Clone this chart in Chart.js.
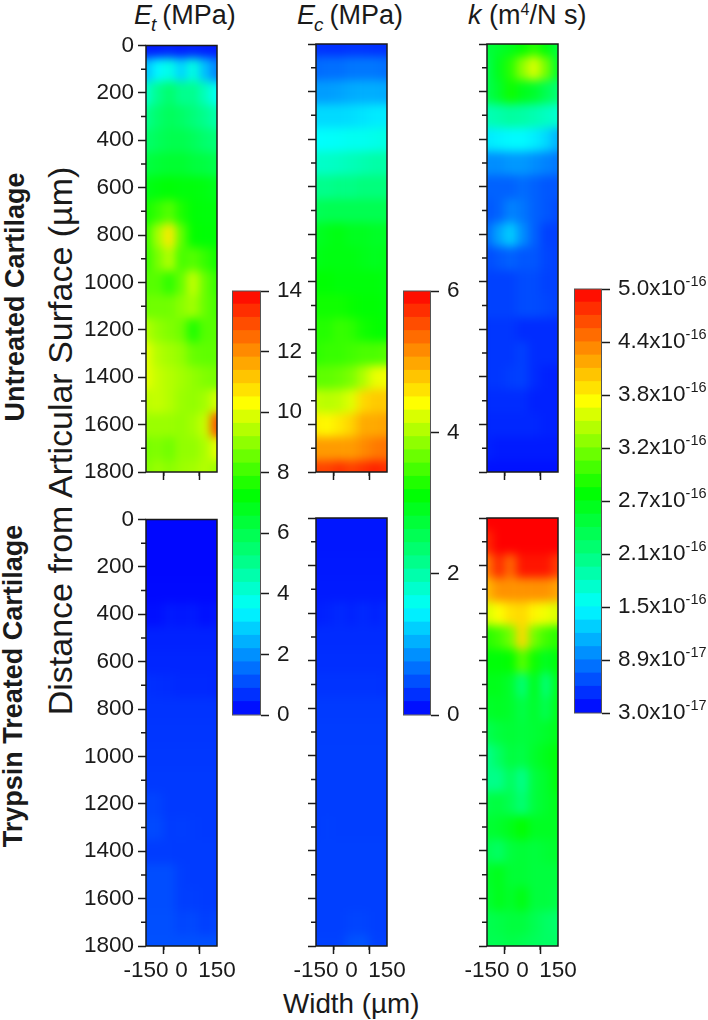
<!DOCTYPE html>
<html>
<head>
<meta charset="utf-8">
<script src="https://cdn.jsdelivr.net/npm/chart.js@4"></script>
<style>
html, body { margin:0; padding:0; background:#fff; }
body { position:relative; width:708px; height:1020px; overflow:hidden; font-family:"Liberation Sans",Arial,sans-serif; color:#1a1a1a; filter:blur(0.4px); }
canvas { position:absolute; }
.lab { position:absolute; white-space:nowrap; line-height:1; }
.title { font-size:27px; }
.title i.sub { font-size:19px; position:relative; top:7px; margin-left:-1px; margin-right:6px; }
.title sup { font-size:16px; line-height:0; position:relative; top:1px; }
.rot { transform:translate(-50%,-50%) rotate(-90deg); }
</style>
</head>
<body>
<div class="lab title" style="left:134px;top:2px"><i>E</i><i class="sub">t</i>(MPa)</div>
<div class="lab title" style="left:297px;top:2px"><i>E</i><i class="sub">c</i>(MPa)</div>
<div class="lab title" style="left:468px;top:2px"><i>k</i> (m<sup>4</sup>/N s)</div>
<div class="lab rot" style="left:60px;top:441px;font-size:34px">Distance from Articular Surface (&#181;m)</div>
<div class="lab rot" style="left:15px;top:297px;font-size:27px;font-weight:bold">Untreated Cartilage</div>
<div class="lab rot" style="left:13px;top:686px;font-size:27px;font-weight:bold">Trypsin Treated Cartilage</div>
<div class="lab" style="left:283px;top:990px;font-size:27.8px">Width (&#181;m)</div>

<canvas id="et_top" width="180" height="480" style="left:80px;top:28px"></canvas>
<canvas id="ec_top" width="180" height="480" style="left:250px;top:28px"></canvas>
<canvas id="k_top" width="180" height="480" style="left:421px;top:28px"></canvas>
<canvas id="et_bot" width="180" height="500" style="left:80px;top:502px"></canvas>
<canvas id="ec_bot" width="180" height="500" style="left:250px;top:502px"></canvas>
<canvas id="k_bot" width="180" height="500" style="left:421px;top:502px"></canvas>
<canvas id="et_bar" width="80" height="472" style="left:232px;top:267px"></canvas>
<canvas id="ec_bar" width="60" height="472" style="left:403px;top:267px"></canvas>
<canvas id="k_bar" width="134" height="472" style="left:574px;top:265px"></canvas>

<script>
var widthCols = [-150, -100, -50, 0, 50, 100, 150];
var depthRows = [0, 100, 200, 300, 400, 500, 600, 700, 800, 900, 1000, 1100, 1200, 1300, 1400, 1500, 1600, 1700, 1800];
var depthTicks = [0, 200, 400, 600, 800, 1000, 1200, 1400, 1600, 1800];
var depthMinor = [100, 300, 500, 700, 900, 1100, 1300, 1500, 1700];
var widthTicks = [-150, 0, 150];
var widthMinor = [-75, 75];

// Et, MPa, one row per depth
var etUntreated = [
    [0.4, 0.4, 0.5, 0.4, 0.5, 0.4, 0.4],
    [2.6, 3.4, 3.8, 2.9, 3.9, 2.6, 1.8],
    [4.2, 5.0, 5.5, 5.0, 5.0, 4.4, 3.6],
    [5.0, 5.5, 5.8, 5.6, 5.3, 5.0, 4.6],
    [5.5, 5.8, 6.0, 6.0, 5.8, 5.5, 5.3],
    [6.2, 6.4, 6.5, 6.5, 6.3, 6.2, 6.0],
    [6.9, 7.1, 7.2, 7.1, 7.1, 7.0, 6.8],
    [7.5, 7.9, 8.3, 7.6, 7.2, 7.1, 7.1],
    [7.9, 9.2, 10.6, 8.4, 7.3, 7.2, 7.2],
    [7.9, 8.7, 9.4, 8.1, 8.3, 7.9, 7.5],
    [8.3, 8.3, 7.8, 8.5, 9.6, 8.5, 7.9],
    [8.6, 8.6, 8.6, 8.9, 9.2, 8.5, 8.1],
    [9.4, 9.0, 8.8, 8.6, 7.6, 8.3, 8.3],
    [10.0, 9.4, 9.2, 9.0, 8.5, 8.4, 8.4],
    [10.0, 9.6, 9.4, 9.2, 9.0, 8.8, 8.7],
    [9.5, 9.6, 9.4, 9.1, 9.0, 9.2, 9.8],
    [9.1, 9.1, 9.1, 9.0, 9.2, 9.6, 12.8],
    [8.7, 8.8, 8.6, 9.0, 9.0, 9.3, 10.0],
    [8.8, 9.1, 8.9, 9.1, 9.2, 9.4, 9.1]
];
var etTrypsin = [
    [0.1, 0.1, 0.1, 0.1, 0.1, 0.1, 0.1],
    [0.1, 0.1, 0.1, 0.1, 0.1, 0.1, 0.1],
    [0.1, 0.1, 0.1, 0.1, 0.1, 0.1, 0.1],
    [0.12, 0.12, 0.12, 0.12, 0.12, 0.12, 0.12],
    [0.2, 0.2, 0.35, 0.3, 0.35, 0.2, 0.3],
    [0.45, 0.45, 0.45, 0.45, 0.45, 0.45, 0.45],
    [0.5, 0.5, 0.5, 0.5, 0.5, 0.5, 0.5],
    [0.65, 0.62, 0.6, 0.55, 0.55, 0.55, 0.52],
    [0.7, 0.7, 0.7, 0.7, 0.7, 0.7, 0.7],
    [0.72, 0.72, 0.72, 0.72, 0.72, 0.72, 0.72],
    [0.75, 0.75, 0.75, 0.75, 0.75, 0.75, 0.75],
    [0.78, 0.78, 0.78, 0.78, 0.78, 0.78, 0.78],
    [0.95, 0.9, 0.78, 0.78, 0.78, 0.78, 0.78],
    [1.0, 1.0, 0.8, 0.85, 0.8, 0.78, 0.78],
    [0.82, 0.82, 0.82, 0.8, 0.8, 0.8, 0.8],
    [1.05, 1.05, 1.05, 0.85, 0.8, 0.8, 0.8],
    [1.05, 1.05, 1.05, 0.85, 0.85, 0.8, 0.8],
    [1.08, 1.08, 1.08, 0.95, 1.0, 0.85, 0.95],
    [1.1, 1.1, 1.1, 1.1, 1.1, 1.1, 1.1]
];

// Ec, MPa
var ecUntreated = [
    [0.3, 0.28, 0.28, 0.3, 0.3, 0.28, 0.28],
    [0.62, 0.65, 0.65, 0.7, 0.7, 0.7, 0.65],
    [0.92, 0.92, 0.95, 1.0, 1.02, 1.02, 1.0],
    [1.28, 1.28, 1.28, 1.3, 1.34, 1.38, 1.38],
    [1.5, 1.52, 1.54, 1.58, 1.58, 1.62, 1.66],
    [1.8, 1.82, 1.85, 1.9, 1.95, 2.0, 2.0],
    [2.15, 2.15, 2.2, 2.2, 2.25, 2.25, 2.25],
    [2.5, 2.55, 2.55, 2.55, 2.55, 2.55, 2.55],
    [2.85, 2.95, 3.0, 2.9, 2.9, 2.85, 2.85],
    [2.95, 3.0, 3.0, 3.0, 2.95, 2.9, 2.95],
    [3.1, 3.1, 3.05, 3.05, 3.05, 3.05, 3.0],
    [3.2, 3.2, 3.2, 3.15, 3.1, 3.1, 3.05],
    [3.3, 3.3, 3.4, 3.35, 3.2, 3.15, 3.1],
    [3.35, 3.4, 3.4, 3.45, 3.5, 3.5, 3.55],
    [3.6, 3.6, 3.65, 3.75, 4.0, 4.3, 4.35],
    [4.1, 4.05, 4.1, 4.25, 4.65, 4.75, 4.75],
    [4.5, 4.45, 4.55, 4.7, 4.95, 4.95, 5.0],
    [5.05, 5.05, 5.05, 5.05, 5.15, 5.25, 5.3],
    [5.6, 5.6, 5.7, 5.6, 5.7, 5.8, 5.7]
];
var ecTrypsin = [
    [0.13, 0.13, 0.13, 0.13, 0.13, 0.13, 0.13],
    [0.13, 0.13, 0.13, 0.13, 0.13, 0.13, 0.13],
    [0.14, 0.14, 0.14, 0.14, 0.14, 0.14, 0.14],
    [0.15, 0.15, 0.15, 0.15, 0.15, 0.15, 0.15],
    [0.18, 0.2, 0.24, 0.2, 0.24, 0.2, 0.24],
    [0.25, 0.25, 0.25, 0.25, 0.25, 0.25, 0.25],
    [0.27, 0.27, 0.27, 0.27, 0.27, 0.27, 0.27],
    [0.3, 0.3, 0.3, 0.3, 0.3, 0.3, 0.28],
    [0.34, 0.34, 0.34, 0.34, 0.34, 0.34, 0.34],
    [0.35, 0.35, 0.35, 0.35, 0.35, 0.35, 0.35],
    [0.36, 0.36, 0.36, 0.36, 0.36, 0.36, 0.36],
    [0.36, 0.36, 0.36, 0.36, 0.36, 0.36, 0.36],
    [0.36, 0.36, 0.36, 0.36, 0.36, 0.36, 0.36],
    [0.36, 0.37, 0.36, 0.36, 0.36, 0.36, 0.36],
    [0.37, 0.37, 0.37, 0.37, 0.37, 0.37, 0.37],
    [0.37, 0.37, 0.37, 0.37, 0.37, 0.37, 0.37],
    [0.37, 0.37, 0.37, 0.37, 0.37, 0.37, 0.37],
    [0.37, 0.37, 0.37, 0.4, 0.4, 0.37, 0.37],
    [0.38, 0.38, 0.38, 0.48, 0.5, 0.38, 0.38]
];

// k, in units of 1e-16 m4/N s
var kUntreated = [
    [2.4, 2.5, 2.6, 2.75, 2.9, 2.7, 2.4],
    [2.3, 2.6, 2.9, 3.3, 3.6, 3.2, 2.5],
    [2.3, 2.5, 2.8, 2.6, 2.5, 2.3, 2.1],
    [1.8, 1.85, 1.9, 1.88, 1.82, 1.75, 1.68],
    [1.38, 1.42, 1.45, 1.45, 1.4, 1.3, 1.12],
    [0.95, 0.95, 1.0, 1.0, 0.95, 0.9, 0.85],
    [0.75, 0.75, 0.75, 0.8, 0.75, 0.7, 0.7],
    [0.7, 0.75, 0.9, 0.85, 0.75, 0.7, 0.65],
    [0.8, 1.05, 1.25, 0.95, 0.75, 0.6, 0.6],
    [0.65, 0.7, 0.75, 0.7, 0.7, 0.62, 0.6],
    [0.6, 0.6, 0.6, 0.65, 0.65, 0.6, 0.6],
    [0.6, 0.6, 0.6, 0.65, 0.65, 0.62, 0.6],
    [0.55, 0.55, 0.55, 0.5, 0.5, 0.5, 0.5],
    [0.55, 0.55, 0.55, 0.6, 0.5, 0.5, 0.5],
    [0.55, 0.55, 0.58, 0.6, 0.5, 0.45, 0.45],
    [0.5, 0.5, 0.5, 0.5, 0.45, 0.45, 0.45],
    [0.48, 0.48, 0.48, 0.48, 0.48, 0.45, 0.45],
    [0.45, 0.42, 0.42, 0.42, 0.42, 0.42, 0.42],
    [0.38, 0.38, 0.38, 0.38, 0.38, 0.38, 0.38]
];
var kTrypsin = [
    [5.0, 5.0, 5.0, 5.0, 5.0, 5.0, 5.0],
    [4.8, 5.0, 5.0, 5.0, 5.0, 5.0, 5.0],
    [4.4, 4.8, 4.5, 4.9, 4.9, 4.9, 4.7],
    [4.1, 4.3, 4.3, 4.3, 4.3, 4.3, 4.2],
    [3.6, 3.75, 3.9, 3.95, 3.8, 3.7, 3.6],
    [2.9, 3.0, 3.2, 3.95, 3.2, 3.0, 2.9],
    [2.7, 2.7, 2.75, 3.1, 2.8, 2.55, 2.7],
    [2.6, 2.6, 2.5, 2.1, 2.6, 2.1, 2.6],
    [2.5, 2.55, 2.5, 2.35, 2.5, 2.3, 2.6],
    [2.3, 2.4, 2.45, 2.4, 2.45, 2.5, 2.6],
    [2.0, 2.2, 2.4, 2.35, 2.5, 2.6, 2.7],
    [2.0, 2.0, 2.25, 2.0, 2.4, 2.5, 2.7],
    [2.35, 2.4, 2.3, 2.1, 2.4, 2.5, 2.6],
    [2.45, 2.5, 2.6, 2.75, 2.55, 2.55, 2.55],
    [2.3, 2.2, 2.4, 2.45, 2.4, 2.45, 2.5],
    [2.5, 2.6, 2.45, 2.45, 2.4, 2.4, 2.4],
    [2.45, 2.6, 2.5, 2.65, 2.4, 2.4, 2.35],
    [2.3, 2.35, 2.4, 2.4, 2.3, 2.2, 2.15],
    [2.3, 2.3, 2.35, 2.3, 2.25, 2.2, 2.2]
];

var etBarTicks = [0, 2, 4, 6, 8, 10, 12, 14];
var ecBarTicks = [0, 2, 4, 6];
var kBarTicks = [0.3, 0.8875, 1.475, 2.0625, 2.65, 3.2375, 3.825, 4.4125, 5.0];
var kBarMant = ['3.0x10', '8.9x10', '1.5x10', '2.1x10', '2.7x10', '3.2x10', '3.8x10', '4.4x10', '5.0x10'];
var kBarExp = ['-17', '-17', '-16', '-16', '-16', '-16', '-16', '-16', '-16'];

var rampPos = [0, 0.125, 0.25, 0.37, 0.52, 0.735, 0.87, 1];
var rampCol = [[0,0,255], [0,128,255], [0,255,255], [0,255,128], [0,255,0], [255,255,0], [255,128,0], [255,0,0]];
var bandCount = 32;

var font = '"Liberation Sans", Arial, sans-serif';
var ink = '#1a1a1a';

function rampColor(f){
    f = Math.max(0, Math.min(1, f));
    var i = 0;
    while (i < rampPos.length - 2 && f > rampPos[i + 1]) i++;
    var t = (f - rampPos[i]) / (rampPos[i + 1] - rampPos[i]);
    var a = rampCol[i], b = rampCol[i + 1];
    return 'rgb(' + Math.round(a[0] + (b[0] - a[0]) * t) + ',' + Math.round(a[1] + (b[1] - a[1]) * t) + ',' + Math.round(a[2] + (b[2] - a[2]) * t) + ')';
}

// smooths the cells the way the contour plot looks, then wipes what spilled out of the frame
var smoothCells = {
    id: 'smoothCells',
    afterDatasetsDraw: function(chart){
        var ctx = chart.ctx, a = chart.chartArea, w = chart.width, h = chart.height;
        ctx.save();
        ctx.filter = 'blur(5px)';
        ctx.drawImage(chart.canvas, 0, 0);
        ctx.restore();
        ctx.clearRect(0, 0, w, a.top);
        ctx.clearRect(0, a.bottom, w, h - a.bottom);
        ctx.clearRect(0, 0, a.left, h);
        ctx.clearRect(a.right, 0, w - a.right, h);
    }
};

var frameAndMinor = {
    id: 'frameAndMinor',
    afterDraw: function(chart){
        var ctx = chart.ctx, a = chart.chartArea;
        ctx.save();
        ctx.strokeStyle = ink;
        ctx.lineWidth = 1.5;
        ctx.strokeRect(a.left, a.top, a.right - a.left, a.bottom - a.top);
        ctx.beginPath();
        depthMinor.forEach(function(v){
            var y = chart.scales.y.getPixelForValue(v);
            ctx.moveTo(a.left - 5, y);
            ctx.lineTo(a.left, y);
        });
        widthMinor.forEach(function(v){
            var x = chart.scales.x.getPixelForValue(v);
            ctx.moveTo(x, a.bottom);
            ctx.lineTo(x, a.bottom + 4);
        });
        ctx.stroke();
        ctx.restore();
    }
};

function plainTick(v){
    return String(v);
}

function panel(id, grid, vMin, vMax, showX, showY){
    var datasets = depthRows.map(function(d, r){
        return {
            data: widthCols.map(function(x){ return {x: x, y: [d - 52, d + 52]}; }),
            backgroundColor: grid[r].map(function(v){ return rampColor((v - vMin) / (vMax - vMin)); }),
            borderWidth: 0,
            grouped: false,
            barPercentage: 1.05,
            categoryPercentage: 1,
            clip: false
        };
    });
    return new Chart(document.getElementById(id), {
        type: 'bar',
        data: {datasets: datasets},
        options: {
            responsive: false,
            animation: false,
            devicePixelRatio: 1,
            layout: {autoPadding: false, padding: {top: 16, right: 43, left: 0, bottom: 0}},
            plugins: {legend: {display: false}, tooltip: {enabled: false}},
            scales: {
                x: {
                    type: 'linear',
                    offset: false,
                    min: -150,
                    max: 150,
                    afterBuildTicks: function(s){ s.ticks = widthTicks.map(function(v){ return {value: v}; }); },
                    afterFit: function(s){ s.height = document.getElementById(id).height - 444; },
                    border: {display: false},
                    grid: {drawOnChartArea: false, tickLength: 8, tickColor: ink, tickWidth: 1.5, z: 1},
                    ticks: {display: showX, z: 1, color: ink, padding: 3, maxRotation: 0, autoSkip: false, font: {family: font, size: 22.5}, callback: plainTick}
                },
                y: {
                    reverse: true,
                    min: 0,
                    max: 1800,
                    afterBuildTicks: function(s){ s.ticks = depthTicks.map(function(v){ return {value: v}; }); },
                    afterFit: function(s){ s.width = 66; },
                    border: {display: false},
                    grid: {drawOnChartArea: false, tickLength: 8, tickColor: ink, tickWidth: 1.5, z: 1},
                    ticks: {display: showY, z: 1, color: ink, padding: 4, autoSkip: false, font: {family: font, size: 22.5}, callback: plainTick}
                }
            }
        },
        plugins: [smoothCells, frameAndMinor]
    });
}

function colorBar(id, tickVals, vMin, vMax, plotW, labelFn, extra){
    var step = (vMax - vMin) / bandCount;
    var datasets = [];
    for (var b = 0; b < bandCount; b++) {
        datasets.push({
            data: [[vMin + b * step, vMin + (b + 1) * step + step * 0.02]],
            backgroundColor: rampColor((b + 0.5) / bandCount),
            borderWidth: 0,
            grouped: false,
            barPercentage: 1,
            categoryPercentage: 1
        });
    }
    return new Chart(document.getElementById(id), {
        type: 'bar',
        data: {labels: ['bar'], datasets: datasets},
        options: {
            responsive: false,
            animation: false,
            devicePixelRatio: 1,
            layout: {autoPadding: false, padding: {top: 24, bottom: 24}},
            plugins: {legend: {display: false}, tooltip: {enabled: false}},
            scales: {
                x: {display: false},
                y: {
                    position: 'right',
                    min: vMin,
                    max: vMax,
                    afterBuildTicks: function(s){ s.ticks = tickVals.map(function(v){ return {value: v}; }); },
                    afterFit: function(s){ s.width = document.getElementById(id).width - plotW; },
                    border: {display: false},
                    grid: {drawOnChartArea: false, tickLength: 8, tickColor: ink, tickWidth: 1.5},
                    ticks: {color: ink, padding: 8, autoSkip: false, font: {family: font, size: 22.5}, callback: labelFn || plainTick}
                }
            }
        },
        plugins: [{
            id: 'barFrame',
            afterDraw: function(chart){
                var ctx = chart.ctx, a = chart.chartArea;
                ctx.save();
                ctx.strokeStyle = '#555';
                ctx.lineWidth = 1;
                ctx.strokeRect(a.left + 0.5, a.top, a.right - a.left - 1, a.bottom - a.top);
                ctx.restore();
                if (extra) extra(chart);
            }
        }]
    });
}

function kExponents(chart){
    var ctx = chart.ctx, s = chart.scales.y;
    ctx.save();
    ctx.fillStyle = ink;
    ctx.textBaseline = 'alphabetic';
    ctx.textAlign = 'left';
    kBarTicks.forEach(function(v, i){
        ctx.font = '22.5px ' + font;
        var w = ctx.measureText(kBarMant[i]).width;
        var x = s.left + 16 + w;
        var y = s.getPixelForValue(v);
        ctx.font = '14.5px ' + font;
        ctx.fillText(kBarExp[i], x, y - 3);
    });
    ctx.restore();
}

panel('et_top', etUntreated, 0, 14, false, true);
panel('ec_top', ecUntreated, 0, 6, false, false);
panel('k_top', kUntreated, 0.3, 5, false, false);
panel('et_bot', etTrypsin, 0, 14, true, true);
panel('ec_bot', ecTrypsin, 0, 6, true, false);
panel('k_bot', kTrypsin, 0.3, 5, true, false);

colorBar('et_bar', etBarTicks, 0, 14, 29);
colorBar('ec_bar', ecBarTicks, 0, 6, 28);
colorBar('k_bar', kBarTicks, 0.3, 5, 28, function(v, i){ return kBarMant[i]; }, kExponents);
</script>
</body>
</html>
